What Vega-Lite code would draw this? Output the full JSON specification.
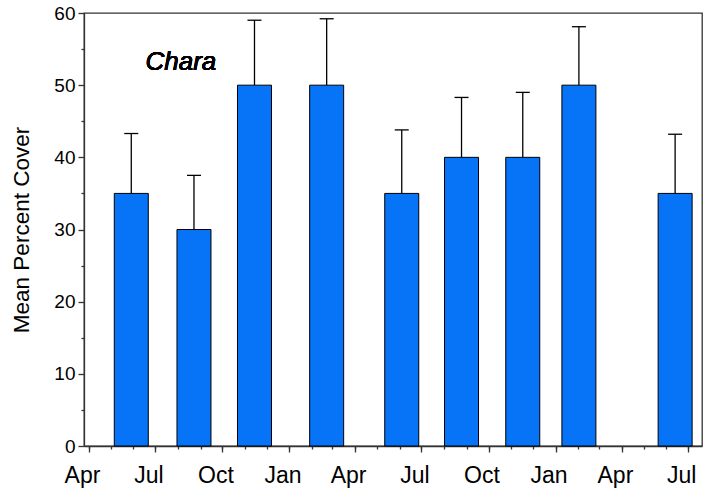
{
  "$schema": "https://vega.github.io/schema/vega-lite/v6.json",
  "width": 618,
  "height": 433,
  "autosize": "none",
  "padding": {"left": 84, "top": 13, "right": 1, "bottom": 44},
  "config": {
    "view": {"stroke": "#333333", "strokeWidth": 1.3},
    "font": "Liberation Sans",
    "axis": {"domainColor": "#333333", "tickColor": "#333333", "grid": false, "labelColor": "#000000", "titleColor": "#000000", "domainWidth": 1.3, "tickWidth": 1.3}
  },
  "data": {
    "values": [
      {"date": "2006-05-29", "mean": 35, "upper": 43.3},
      {"date": "2006-08-23", "mean": 30, "upper": 37.5},
      {"date": "2006-11-14", "mean": 50, "upper": 59.0},
      {"date": "2007-02-21", "mean": 50, "upper": 59.2},
      {"date": "2007-06-04", "mean": 35, "upper": 43.8},
      {"date": "2007-08-25", "mean": 40, "upper": 48.3},
      {"date": "2007-11-17", "mean": 40, "upper": 49.0},
      {"date": "2008-02-02", "mean": 50, "upper": 58.1},
      {"date": "2008-06-13", "mean": 35, "upper": 43.2}
    ]
  },
  "layer": [
    {
      "mark": {"type": "rule", "color": "#000000", "strokeWidth": 1.3},
      "encoding": {
        "x": {
          "field": "date", "type": "temporal",
          "scale": {"type": "utc", "domain": [{"year": 2006, "month": 4, "date": 1, "utc": true}, {"year": 2008, "month": 7, "date": 13, "utc": true}]},
          "axis": {"orient": "bottom", "tickCount": {"interval": "month", "step": 1}, "labels": false, "domain": false, "tickSize": 3, "title": null}
        },
        "y": {
          "field": "mean", "type": "quantitative",
          "scale": {"domain": [0, 60]},
          "axis": {"orient": "left", "values": [5, 15, 25, 35, 45, 55], "labels": false, "domain": false, "tickSize": 3, "title": null}
        },
        "y2": {"field": "upper"}
      }
    },
    {
      "mark": {"type": "tick", "orient": "horizontal", "size": 14, "thickness": 1.3, "color": "#000000", "opacity": 1},
      "encoding": {
        "x": {"field": "date", "type": "temporal", "axis": null},
        "y": {"field": "upper", "type": "quantitative", "axis": null}
      }
    },
    {
      "mark": {"type": "bar", "size": 34, "fill": "#0773F7", "stroke": "#000000", "strokeWidth": 1},
      "encoding": {
        "x": {
          "field": "date", "type": "temporal",
          "axis": {"orient": "bottom", "tickCount": {"interval": "month", "step": 3}, "format": "%b", "tickSize": 6, "labelFontSize": 23, "labelPadding": 12, "labelOffset": -7, "title": null, "labelFlush": false, "labelOverlap": false}
        },
        "y": {
          "field": "mean", "type": "quantitative",
          "axis": {"orient": "left", "values": [0, 10, 20, 30, 40, 50, 60], "tickSize": 6, "labelFontSize": 19, "labelPadding": 3, "title": "Mean Percent Cover", "titleFontSize": 22.5, "titleFontWeight": "normal", "titlePadding": 20}
        }
      }
    },
    {
      "mark": {"type": "text", "text": "Chara", "fontSize": 26, "fontStyle": "italic", "align": "center", "baseline": "alphabetic", "color": "#000000"},
      "encoding": {
        "x": {"datum": {"year": 2006, "month": 8, "date": 5, "utc": true}, "type": "temporal", "axis": null},
        "y": {"datum": 52.1, "type": "quantitative", "axis": null}
      }
    }
  ],
  "resolve": {"axis": {"x": "independent", "y": "independent"}}
}
